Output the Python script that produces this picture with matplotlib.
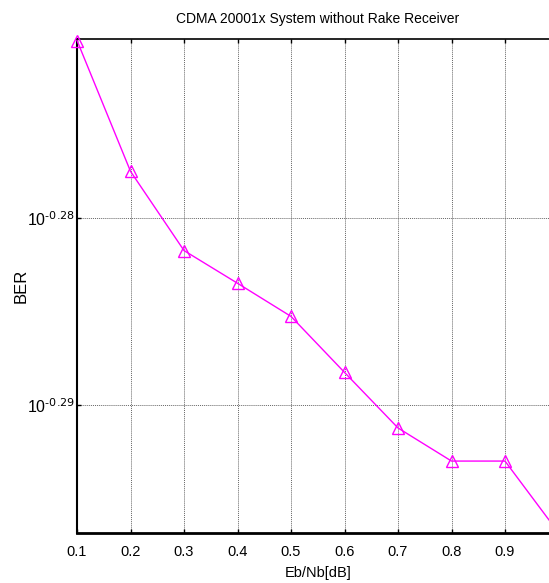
import numpy as np
import matplotlib
matplotlib.use("Agg")
import matplotlib.pyplot as plt
from matplotlib.ticker import FixedLocator, FixedFormatter, NullLocator

plt.rcParams["font.family"] = ["Liberation Sans", "DejaVu Sans"]
plt.rcParams["axes.unicode_minus"] = False

# данные
ebnb = [0.1, 0.2, 0.3, 0.4, 0.5, 0.6, 0.7, 0.8, 0.9, 1.0]
ber = [0.53642, 0.52785, 0.52273, 0.52063, 0.51851, 0.51495, 0.51144, 0.50936, 0.50936, 0.50489]
xticks = [0.1, 0.2, 0.3, 0.4, 0.5, 0.6, 0.7, 0.8, 0.9]
xtick_labels = ["0.1", "0.2", "0.3", "0.4", "0.5", "0.6", "0.7", "0.8", "0.9"]
yticks = [10 ** -0.29, 10 ** -0.28]
ytick_labels = [r"$\mathregular{10}^{\text{-0.29}}$", r"$\mathregular{10}^{\text{-0.28}}$"]

fig = plt.figure(figsize=(5.49, 5.83), dpi=100)
# ось выходит за правый край картинки, как на оригинале
ax = fig.add_axes([0.1403, 0.0863, 0.877, 0.8463])

ax.plot(ebnb, ber, color="#ff00ff", lw=1, marker="^", ms=9,
        mfc="none", mec="#ff00ff", mew=1, clip_on=False, zorder=5)

ax.set_yscale("log")
ax.set_xlim(0.1, 1.0)
ax.set_ylim(min(ber), 10 ** -0.27043)

ax.xaxis.set_major_locator(FixedLocator(xticks))
ax.xaxis.set_major_formatter(FixedFormatter(xtick_labels))
ax.yaxis.set_major_locator(FixedLocator(yticks))
ax.yaxis.set_major_formatter(FixedFormatter(ytick_labels))
ax.yaxis.set_minor_locator(NullLocator())

ax.grid(True, which="major", ls=(0, (1, 1)), color="0.4", lw=0.7)
ax.tick_params(direction="in", length=3, width=1, top=True, right=True)
ax.tick_params(axis="x", labelsize=10.5, pad=9)
ax.tick_params(axis="y", labelsize=11.5, pad=2)

ax.spines["left"].set_linewidth(1.5)
ax.spines["bottom"].set_linewidth(2)
ax.spines["top"].set_linewidth(1.2)

ax.set_title("CDMA 20001x System without Rake Receiver", fontsize=10, pad=12)
ax.set_xlabel("Eb/Nb[dB]", fontsize=10.5, labelpad=5)
ax.set_ylabel("BER", fontsize=12)
ax.yaxis.set_label_coords(-0.1, 0.5)

fig.savefig("out.png", dpi=100)
